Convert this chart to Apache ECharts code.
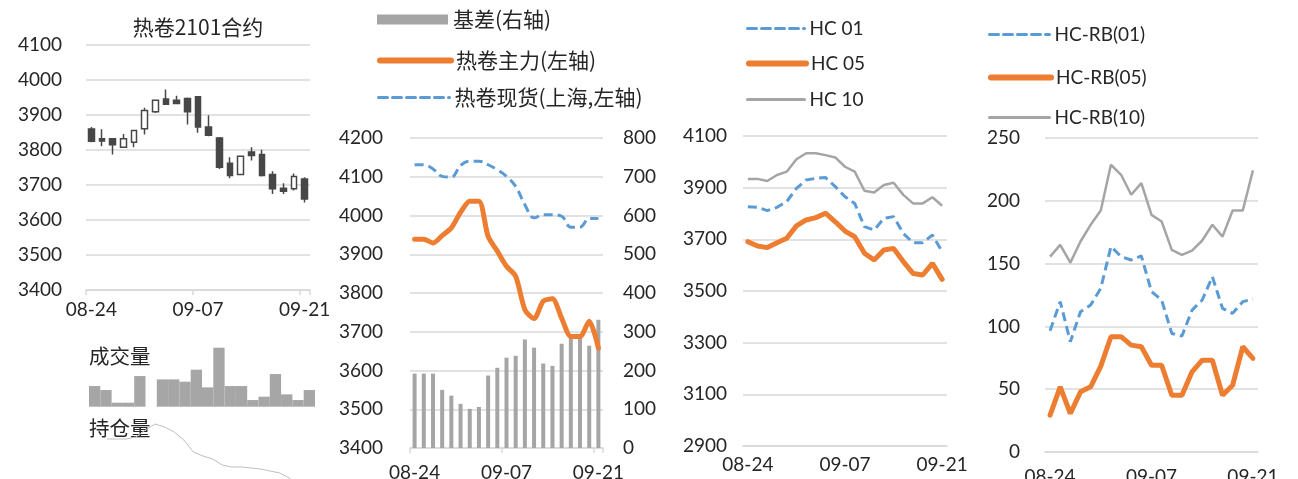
<!DOCTYPE html>
<html><head><meta charset="utf-8">
<script src="https://cdn.jsdelivr.net/npm/echarts@6/dist/echarts.min.js"></script>
<style>html,body{margin:0;padding:0;background:#fff}#c{width:1298px;height:479px}</style>
</head><body><div id="c"></div>
<script>
// ---------- data ----------
const dates = ['08-24','08-25','08-26','08-27','08-28','08-31','09-01','09-02','09-03','09-04','09-07','09-08','09-09','09-10','09-11','09-14','09-15','09-16','09-17','09-18','09-21'];
// HC2101 daily candles
const candleOpen  = [3860,3832,3832,3808,3822,3861,3909,3946,3942,3947,3952,3866,3834,3762,3730,3794,3787,3730,3691,3689,3717];
const candleClose = [3825,3826,3815,3832,3856,3913,3942,3931,3933,3909,3866,3842,3751,3727,3782,3784,3727,3689,3682,3724,3660];
const candleLow   = [3822,3811,3787,3808,3808,3844,3906,3930,3932,3873,3849,3839,3746,3719,3730,3770,3724,3674,3674,3684,3650];
const candleHigh  = [3866,3859,3832,3846,3858,3921,3944,3973,3955,3950,3952,3899,3837,3779,3784,3808,3801,3739,3705,3733,3722];
// volume sparkline (relative units)
const volumeDates = dates.slice(1);
const volume = [62,50,12,12,92,0,82,82,75,111,58,177,62,62,20,30,98,37,20,50];
// open interest sparkline (relative units)
const openInterest = [41,41,41,43,50,56,53,48,40,28,24,21,15,13,13,12,11,9,7,2,-5];
// panel 2
const basis  = [192,192,192,150,135,114,101,106,187,207,233,238,280,259,218,212,269,288,288,264,331];
const hcMain = [3939,3939,3929,3948,3968,4008,4037,4037,3946,3908,3869,3843,3757,3734,3779,3785,3735,3688,3688,3727,3658];
const hcSpot = [4131,4131,4120,4101,4099,4129,4140,4140,4131,4118,4101,4075,4028,3994,4002,4002,3998,3970,3970,3992,3992];
// panel 3
const hc01 = [3826,3824,3811,3824,3846,3897,3930,3936,3939,3904,3865,3839,3749,3736,3781,3788,3723,3687,3687,3717,3652];
const hc05 = [3691,3674,3668,3687,3704,3752,3775,3784,3801,3768,3732,3710,3646,3620,3659,3665,3614,3568,3562,3607,3545];
const hc10 = [3934,3934,3926,3949,3962,4010,4033,4033,4026,4017,3981,3962,3888,3881,3910,3919,3872,3839,3839,3863,3830];
// panel 4
const hcrb01 = [96.5,119.7,87.8,111.7,117.0,130.3,163.6,155.6,152.9,156.1,127.7,121.0,94.4,92.3,113.0,121.0,139.6,114.4,110.4,119.7,121.8];
const hcrb05 = [29.3,51.9,30.6,47.9,51.9,68.4,91.8,91.8,85.1,83.8,69.1,69.1,45.2,45.2,63.8,73.1,73.1,45.2,53.2,83.8,74.5];
const hcrb10 = [155.6,164.9,150.8,167.6,180.9,192.3,228.7,220.7,204.8,214.1,188.8,183.5,160.9,156.9,160.4,168.4,180.9,171.5,192.3,192.3,224.2];

// ---------- style ----------
const FONT = 'Lato, "Noto Sans CJK SC", sans-serif';
const CJK = '"Noto Sans CJK SC", sans-serif';
const TXT = '#262626';
const GRIDC = '#d9d9d9';
const BLUE = '#5b9bd5', ORANGE = '#ed7d31', GREY = '#a5a5a5', DARK = '#474747';

const candleData = dates.map((d, i) => [candleOpen[i], candleClose[i], candleLow[i], candleHigh[i]]);

function xCat(gridIndex, margin, ticks) {
  return {
    type: 'category', gridIndex, data: dates, boundaryGap: true,
    axisLine: { lineStyle: { color: GRIDC, width: 1.5 } },
    axisTick: { show: ticks, interval: 9, length: 5, lineStyle: { color: GRIDC, width: 1.5 } },
    axisLabel: { interval: 9, margin, color: TXT, fontSize: 19, fontFamily: FONT }
  };
}
function yVal(gridIndex, min, max, interval, margin, extra) {
  return Object.assign({
    type: 'value', gridIndex, min, max, interval,
    axisLine: { show: false }, axisTick: { show: false },
    splitLine: { lineStyle: { color: GRIDC, width: 1.5 } },
    axisLabel: { margin, color: TXT, fontSize: 19, fontFamily: FONT, formatter: v => String(v) }
  }, extra || {});
}
function leg(name, left, top, w, lw, font, fs, isBar) {
  const l = {
    data: [name], left, top, itemWidth: w, itemHeight: 10, padding: 0,
    textStyle: { fontSize: fs, fontFamily: font, color: TXT }, selectedMode: false
  };
  if (isBar) { l.icon = 'rect'; }
  else {
    l.itemStyle = { opacity: 0 };
    l.lineStyle = { width: lw, cap: 'round' };
  }
  return l;
}
function grid(left, top, width, height) {
  return { left, top, width, height, outerBoundsMode: 'none', containLabel: false };
}

const option = {
  animation: false,
  backgroundColor: '#fff',
  textStyle: { fontFamily: FONT },
  title: {
    text: '热卷2101合约', left: 193, top: 12, textAlign: 'center',
    textStyle: { fontSize: 21, fontWeight: 'normal', color: TXT, fontFamily: CJK }
  },
  graphic: [
    { type: 'text', left: 89, top: 346, style: { text: '成交量', fontSize: 20.5, fill: TXT, fontFamily: CJK } },
    { type: 'text', left: 89, top: 418, style: { text: '持仓量', fontSize: 20.5, fill: TXT, fontFamily: CJK } }
  ],
  legend: [
    leg('基差(右轴)', 377, 9, 71, 0, CJK, 21, true),
    leg('热卷主力(左轴)', 377, 50, 71, 6, CJK, 21),
    leg('热卷现货(上海,左轴)', 377, 87, 71, 3, CJK, 21),
    leg('HC 01', 746, 19, 57, 3, FONT, 19),
    leg('HC 05', 746, 54, 57, 6, FONT, 19),
    leg('HC 10', 746, 90, 57, 3, FONT, 19),
    leg('HC-RB(01)', 988, 25, 60, 3, FONT, 19),
    leg('HC-RB(05)', 988, 68, 60, 6, FONT, 19),
    leg('HC-RB(10)', 988, 108, 60, 3, FONT, 19)
  ],
  grid: [
    grid(86, 45, 224, 245),
    grid(89, 347.7, 226, 59),
    grid(107, 420, 192, 80),
    grid(410, 138, 193, 310),
    grid(743, 136, 204, 310),
    grid(1045, 138, 213, 314)
  ],
  xAxis: [
    xCat(0, 10, true),
    { type: 'category', gridIndex: 1, data: volumeDates, show: false },
    { type: 'category', gridIndex: 2, data: dates, boundaryGap: false, show: false },
    xCat(3, 15, true),
    xCat(4, 9, false),
    xCat(5, 15, false)
  ],
  yAxis: [
    yVal(0, 3400, 4100, 100, 24),
    { type: 'value', gridIndex: 1, min: 0, max: 177, show: false },
    { type: 'value', gridIndex: 2, min: -20, max: 60, show: false },
    yVal(3, 3400, 4200, 100, 27),
    yVal(3, 0, 800, 100, 20, { position: 'right', splitLine: { show: false } }),
    yVal(4, 2900, 4100, 200, 16),
    yVal(5, 0, 250, 50, 25)
  ],
  series: [
    { type: 'candlestick', name: '热卷2101', xAxisIndex: 0, yAxisIndex: 0, data: candleData, barWidth: 6,
      itemStyle: { color: '#fff', color0: DARK, borderColor: DARK, borderColor0: DARK, borderWidth: 1.5 } },
    { type: 'bar', name: '成交量', xAxisIndex: 1, yAxisIndex: 1, data: volume, barCategoryGap: 0,
      itemStyle: { color: '#a6a6a6' } },
    { type: 'line', name: '持仓量', xAxisIndex: 2, yAxisIndex: 2, data: openInterest, symbol: 'none',
      lineStyle: { color: '#bfbfbf', width: 1 } },

    { type: 'bar', name: '基差(右轴)', xAxisIndex: 3, yAxisIndex: 4, data: basis, barWidth: 4,
      itemStyle: { color: GREY } },
    { type: 'line', name: '热卷主力(左轴)', xAxisIndex: 3, yAxisIndex: 3, data: hcMain, symbol: 'none', smooth: 0.25,
      itemStyle: { color: ORANGE }, lineStyle: { color: ORANGE, width: 5, cap: 'round' } },
    { type: 'line', name: '热卷现货(上海,左轴)', xAxisIndex: 3, yAxisIndex: 3, data: hcSpot, symbol: 'none', smooth: 0.4,
      itemStyle: { color: BLUE }, lineStyle: { color: BLUE, width: 3, type: [9, 5] } },

    { type: 'line', name: 'HC 01', xAxisIndex: 4, yAxisIndex: 5, data: hc01, symbol: 'none',
      itemStyle: { color: BLUE }, lineStyle: { color: BLUE, width: 3, type: [9, 5] } },
    { type: 'line', name: 'HC 05', xAxisIndex: 4, yAxisIndex: 5, data: hc05, symbol: 'none',
      itemStyle: { color: ORANGE }, lineStyle: { color: ORANGE, width: 5, cap: 'round' } },
    { type: 'line', name: 'HC 10', xAxisIndex: 4, yAxisIndex: 5, data: hc10, symbol: 'none',
      itemStyle: { color: GREY }, lineStyle: { color: GREY, width: 2.5 } },

    { type: 'line', name: 'HC-RB(01)', xAxisIndex: 5, yAxisIndex: 6, data: hcrb01, symbol: 'none',
      itemStyle: { color: BLUE }, lineStyle: { color: BLUE, width: 3, type: [9, 5] } },
    { type: 'line', name: 'HC-RB(05)', xAxisIndex: 5, yAxisIndex: 6, data: hcrb05, symbol: 'none',
      itemStyle: { color: ORANGE }, lineStyle: { color: ORANGE, width: 5, cap: 'round' } },
    { type: 'line', name: 'HC-RB(10)', xAxisIndex: 5, yAxisIndex: 6, data: hcrb10, symbol: 'none',
      itemStyle: { color: GREY }, lineStyle: { color: GREY, width: 2.5 } }
  ]
};
const chart = echarts.init(document.getElementById('c'), null, { renderer: 'canvas' });
chart.setOption(option);
</script></body></html>
